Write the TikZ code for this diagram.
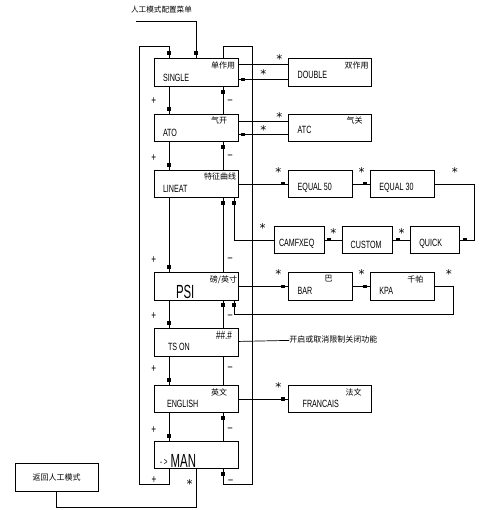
\documentclass[tikz,border=0pt]{standalone}
\usepackage{fontspec}
\setmainfont{Liberation Sans}[FakeStretch=0.68]
\newfontfamily\bigfont{Liberation Sans}[FakeStretch=0.6]
\newfontfamily\symfont{DejaVu Sans}
\newfontfamily\cjk{Noto Sans CJK SC}
\usetikzlibrary{positioning}
\usetikzlibrary{decorations.markings}

\begin{document}
\begin{tikzpicture}[x=1pt, y=-1pt, line width=0.7pt,
	box/.style={draw, minimum width=84pt, minimum height=27.5pt, inner sep=0pt},
	enl/.style={font=\fontsize{10.5}{10.5}\selectfont, inner sep=0pt, anchor=south west, xshift=9pt, yshift=5pt},
	zh/.style={font=\cjk\fontsize{8}{8}\selectfont, inner sep=0pt},
	zhl/.style={zh, anchor=north east, xshift=-2pt, yshift=-3pt},
	pm/.style={font=\fontsize{12}{12}\selectfont, inner sep=0.5pt},
	star/.style={font=\symfont\fontsize{12}{12}\selectfont, inner sep=0pt},
	mk/.style={postaction={decorate}, decoration={markings, mark=at position 0.9999 with {\fill (-7pt,-1.6pt) rectangle (-3pt,1.6pt);}}}]
	\useasboundingbox (0,0) rectangle (488,510);
	% main column
	\node[box, label={[enl]south west:SINGLE}, label={[zhl, xshift=-1pt]north east:单作用}] (single) at (196,72.5) {};
	\node[box, below=27pt of single, label={[enl]south west:ATO}, label={[zhl, xshift=-9pt]north east:气开}] (ato) {};
	\node[box, below=28pt of ato, label={[enl]south west:LINEAT}, label={[zhl]north east:特征曲线}] (lineat) {};
	\node[box, below=74pt of lineat, label={[enl, font=\bigfont\fontsize{19}{19}\selectfont, xshift=13pt, yshift=-4pt]south west:PSI}, label={[zhl, xshift=1pt]north east:磅/英寸}] (psi) {};
	\node[box, below=28pt of psi, label={[enl, xshift=5pt]south west:TS ON}, label={[zhl, font=\fontsize{12}{12}\selectfont, xshift=-4pt]north east:\#\#.\#}] (tson) {};
	\node[box, below=28.5pt of tson, label={[enl, xshift=4pt]south west:ENGLISH}, label={[zhl, xshift=-9pt]north east:英文}] (english) {};
	\node[box, below=27.5pt of english, label={[enl, font=\bigfont\fontsize{19}{19}\selectfont, xshift=-3pt, yshift=-3.7pt]south west:\raisebox{2pt}{\fontsize{10.5}{10.5}\selectfont -\,>}\ MAN}] (man) {};
	% options
	\node[box, minimum width=83pt, right=50pt of single, label={[enl, yshift=2.5pt]south west:DOUBLE}, label={[zhl, xshift=-1pt]north east:双作用}] (double) {};
	\node[box, minimum width=83pt, right=50pt of ato, label={[enl, yshift=2.5pt]south west:ATC}, label={[zhl, xshift=-7pt]north east:气关}] (atc) {};
	\node[box, minimum width=64pt, right=50pt of lineat, label={[enl]south west:EQUAL 50}] (equal50) {};
	\node[box, minimum width=64pt, right=17pt of equal50, label={[enl]south west:EQUAL 30}] (equal30) {};
	\node[box, minimum width=49pt, anchor=north east, label={[enl]south west:QUICK}] (quick) at ([xshift=25pt,yshift=-27.75pt]equal30.south east) {};
	\node[box, minimum width=50pt, left=17pt of quick, label={[enl, xshift=-1pt]south west:CUSTOM}] (custom) {};
	\node[box, minimum width=50pt, left=18pt of custom, label={[enl, xshift=-4pt]south west:CAMFXEQ}] (camfxeq) {};
	\node[box, minimum width=64pt, right=50pt of psi, label={[enl]south west:BAR}, label={[zhl, xshift=-18pt]north east:巴}] (bar) {};
	\node[box, minimum width=64pt, right=17pt of bar, label={[enl]south west:KPA}, label={[zhl, xshift=-9pt]north east:千帕}] (kpa) {};
	\node[box, minimum width=83pt, right=50pt of english, label={[enl, xshift=5pt]south west:FRANCAIS}, label={[zhl, xshift=-8pt]north east:法文}] (francais) {};
	\node[box, minimum width=83pt, minimum height=28pt, zh] (ret) at (56.5,477) {返回人工模式};
	\node[zh, font=\cjk\fontsize{7.6}{7.6}\selectfont] (menu) at (161.5,10) {人工模式配置菜单};
	\node[zh, anchor=west] (tsnote) at (289,339.5) {开启或取消限制关闭功能};
	\coordinate (menuin) at (136,21);
	\coordinate (looptl) at (139,46);
	\coordinate (loopbl) at (139,484);
	\coordinate (looptr) at (252,46);
	\coordinate (loopbr) at (252,484);
	% loops
	\draw[mk] (menuin) -| (single.north);
	\draw[mk] ([xshift=-27pt]man.south) |- (loopbl) node[pm, pos=0.75, above]{+} -- (looptl) -| ([xshift=-27pt]single.north);
	\draw[mk] ([xshift=27pt]single.north) |- (looptr) -- (loopbr) -| node[pm, pos=0.37, above]{–} ([xshift=27pt]man.south);
	\draw[mk] ([xshift=-27pt]single.south) -- node[pm, pos=0.55, left=12pt]{+} ([xshift=-27pt]ato.north);
	\draw[mk] ([xshift=-27pt]ato.south) -- node[pm, pos=0.57, left=12pt]{+} ([xshift=-27pt]lineat.north);
	\draw[mk] ([xshift=-27pt]lineat.south) -- node[pm, pos=0.84, left=12pt]{+} ([xshift=-27pt]psi.north);
	\draw[mk] ([xshift=-27pt]psi.south) -- node[pm, pos=0.57, left=12pt]{+} ([xshift=-27pt]tson.north);
	\draw[mk] ([xshift=-27pt]tson.south) -- node[pm, pos=0.46, left=12pt]{+} ([xshift=-27pt]english.north);
	\draw[mk] ([xshift=-27pt]english.south) -- node[pm, pos=0.6, left=12pt]{+} ([xshift=-27pt]man.north);
	\draw[mk] ([xshift=27pt]ato.north) -- node[pm, pos=0.44, right=4pt]{–} ([xshift=27pt]single.south);
	\draw[mk] ([xshift=27pt]lineat.north) -- node[pm, pos=0.45, right=4pt]{–} ([xshift=27pt]ato.south);
	\draw[mk] ([xshift=27pt]psi.north) -- node[pm, pos=0.16, right=4pt]{–} ([xshift=27pt]lineat.south);
	\draw[mk] ([xshift=27pt]tson.north) -- node[pm, pos=0.42, right=4pt]{–} ([xshift=27pt]psi.south);
	\draw ([xshift=27pt]english.north) -- node[pm, pos=0.55, right=4pt]{–} ([xshift=27pt]tson.south);
	\draw[mk] ([xshift=27pt]man.north) -- node[pm, pos=0.39, right=4pt]{–} ([xshift=27pt]english.south);
	% side menus
	\draw ([yshift=8.25pt]single.east) -- node[star, pos=0.82, above]{*} ([yshift=8.25pt]double.west);
	\draw[mk] ([yshift=-6.75pt]double.west) -- node[star, above]{*} ([yshift=-6.75pt]single.east);
	\draw ([yshift=6pt]ato.east) -- node[star, pos=0.82, above]{*} ([yshift=6pt]atc.west);
	\draw[mk] ([yshift=-7pt]atc.west) -- node[star, above]{*} ([yshift=-7pt]ato.east);
	\draw[mk] (lineat) -- node[star, pos=0.8, above=7pt]{*} (equal50);
	\draw[mk] (equal50) -- node[star, above=7pt]{*} (equal30);
	\draw[mk] (equal30.east) -| node[star, pos=0.25, above=7pt]{*} ([xshift=15pt]quick.east) -- (quick.east);
	\draw[mk] (quick) -- node[star, above=2.5pt]{*} (custom);
	\draw[mk] (custom) -- node[star, above=2.5pt]{*} (camfxeq);
	\draw[mk] (camfxeq.west) -| node[star, pos=0.14, above=6.5pt]{*} ([xshift=38pt]lineat.south);
	\draw[mk] (psi) -- node[star, pos=0.8, above=7.5pt]{*} (bar);
	\draw[mk] (bar) -- node[star, above=7.5pt]{*} (kpa);
	\draw[mk] (kpa.east) -| node[star, pos=0.37, above=7.5pt]{*} ([xshift=19pt,yshift=-14pt]kpa.south east) -| ([xshift=38pt]psi.south);
	\draw (tson) -- (tsnote);
	\draw[mk] (english) -- node[star, pos=0.8, above=7pt]{*} (francais);
	\draw (man.south) |- node[star, pos=0.2, left=3pt]{*} ([yshift=-16pt]ret.south) -- (ret.south);
\end{tikzpicture}
\end{document}
